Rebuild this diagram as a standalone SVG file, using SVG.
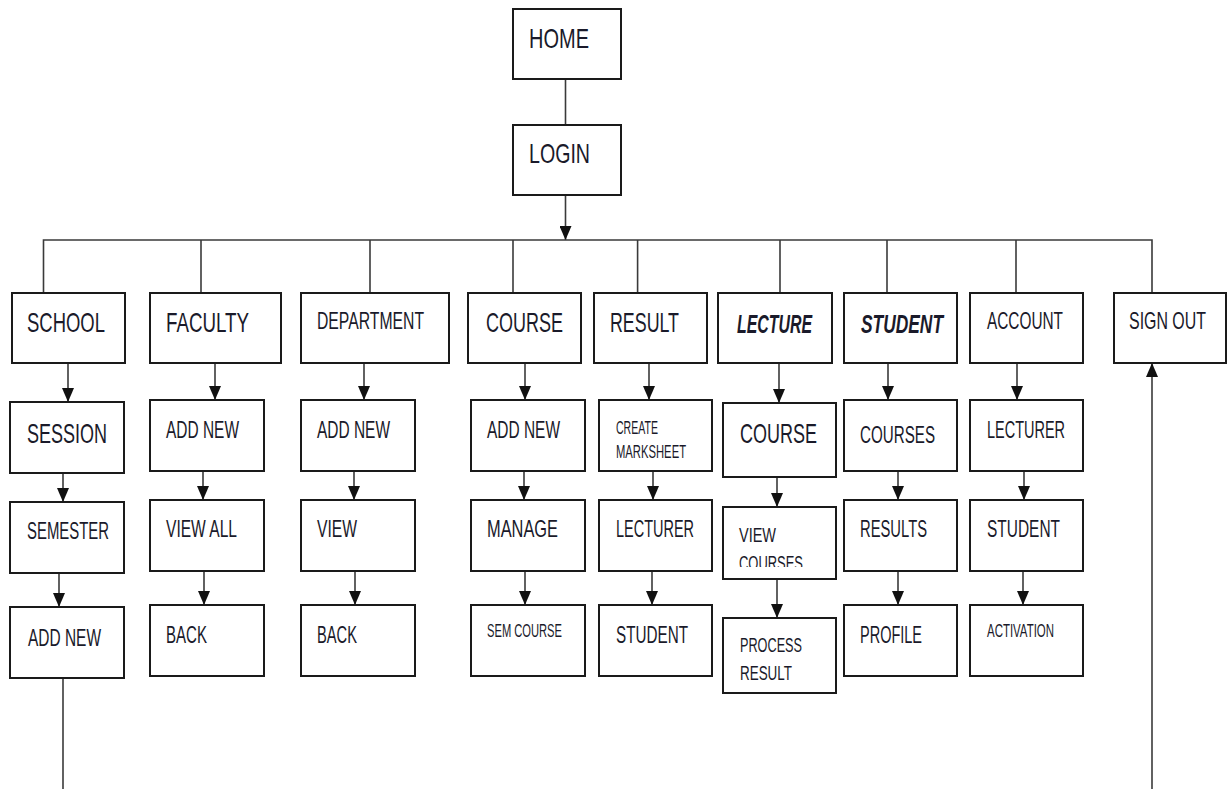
<svg xmlns="http://www.w3.org/2000/svg" width="1227" height="789" viewBox="0 0 1227 789">
<style>
.box{fill:#fff;stroke:#1a1a1a;stroke-width:2}
.ln{fill:none;stroke:#3a3a3a;stroke-width:1.6}
text{font-family:"Liberation Sans",Arial,sans-serif;fill:#1a1a2a}
.xl{font-size:28px}
.l{font-size:24.5px}
.m{font-size:20px}
.s{font-size:17.5px}
.it{font-size:26px;font-style:italic;font-weight:bold}
</style>
<defs>
<marker id="ah" viewBox="0 0 14 12" refX="14" refY="6" markerWidth="14" markerHeight="12" markerUnits="userSpaceOnUse" orient="auto">
<path d="M0,0 L14,6 L0,12 z" fill="#111"/>
</marker>
<clipPath id="vcclip"><rect x="724" y="552" width="112" height="15"/></clipPath>
</defs>
<g id="connectors">
<line class="ln" x1="565.5" y1="79" x2="565.5" y2="125"/>
<line class="ln" x1="565.5" y1="195" x2="565.5" y2="240" marker-end="url(#ah)"/>
<polyline class="ln" points="43.5,293 43.5,240 1152,240 1152,293"/>
<line class="ln" x1="201" y1="240" x2="201" y2="293"/>
<line class="ln" x1="370" y1="240" x2="370" y2="293"/>
<line class="ln" x1="513" y1="240" x2="513" y2="293"/>
<line class="ln" x1="637.6" y1="240" x2="637.6" y2="293"/>
<line class="ln" x1="780" y1="240" x2="780" y2="293"/>
<line class="ln" x1="887" y1="240" x2="887" y2="293"/>
<line class="ln" x1="1016" y1="240" x2="1016" y2="293"/>
<line class="ln" x1="68" y1="363" x2="68" y2="402" marker-end="url(#ah)"/>
<line class="ln" x1="63" y1="473" x2="63" y2="502" marker-end="url(#ah)"/>
<line class="ln" x1="59" y1="573" x2="59" y2="607" marker-end="url(#ah)"/>
<line class="ln" x1="63" y1="678" x2="63" y2="789"/>
<line class="ln" x1="215" y1="363" x2="215" y2="400" marker-end="url(#ah)"/>
<line class="ln" x1="203" y1="471" x2="203" y2="500" marker-end="url(#ah)"/>
<line class="ln" x1="204" y1="571" x2="204" y2="605" marker-end="url(#ah)"/>
<line class="ln" x1="364" y1="363" x2="364" y2="400" marker-end="url(#ah)"/>
<line class="ln" x1="354" y1="471" x2="354" y2="500" marker-end="url(#ah)"/>
<line class="ln" x1="355" y1="571" x2="355" y2="605" marker-end="url(#ah)"/>
<line class="ln" x1="525" y1="363" x2="525" y2="400" marker-end="url(#ah)"/>
<line class="ln" x1="524" y1="471" x2="524" y2="500" marker-end="url(#ah)"/>
<line class="ln" x1="525" y1="571" x2="525" y2="605" marker-end="url(#ah)"/>
<line class="ln" x1="649" y1="363" x2="649" y2="400" marker-end="url(#ah)"/>
<line class="ln" x1="653" y1="471" x2="653" y2="500" marker-end="url(#ah)"/>
<line class="ln" x1="652" y1="571" x2="652" y2="605" marker-end="url(#ah)"/>
<line class="ln" x1="779" y1="363" x2="779" y2="403" marker-end="url(#ah)"/>
<line class="ln" x1="777" y1="477" x2="777" y2="507" marker-end="url(#ah)"/>
<line class="ln" x1="777" y1="579" x2="777" y2="618" marker-end="url(#ah)"/>
<line class="ln" x1="888" y1="363" x2="888" y2="400" marker-end="url(#ah)"/>
<line class="ln" x1="898" y1="471" x2="898" y2="500" marker-end="url(#ah)"/>
<line class="ln" x1="898" y1="571" x2="898" y2="605" marker-end="url(#ah)"/>
<line class="ln" x1="1017" y1="363" x2="1017" y2="400" marker-end="url(#ah)"/>
<line class="ln" x1="1024" y1="471" x2="1024" y2="500" marker-end="url(#ah)"/>
<line class="ln" x1="1023" y1="571" x2="1023" y2="605" marker-end="url(#ah)"/>
<line class="ln" x1="1152" y1="789" x2="1152" y2="363" marker-end="url(#ah)"/>
</g>
<g id="home"><rect class="box" x="513" y="9" width="108" height="70"/><text class="xl" x="529" y="48" textLength="60" lengthAdjust="spacingAndGlyphs">HOME</text></g>
<g id="login"><rect class="box" x="513" y="125" width="108" height="70"/><text class="xl" x="529" y="163" textLength="61" lengthAdjust="spacingAndGlyphs">LOGIN</text></g>

<g id="school"><rect class="box" x="12" y="293" width="113" height="70"/><text class="xl" x="27" y="332" textLength="78" lengthAdjust="spacingAndGlyphs">SCHOOL</text></g>
<g id="faculty"><rect class="box" x="150" y="293" width="131" height="70"/><text class="xl" x="166" y="332" textLength="83" lengthAdjust="spacingAndGlyphs">FACULTY</text></g>
<g id="department"><rect class="box" x="301" y="293" width="148" height="70"/><text class="l" x="317" y="329" textLength="107" lengthAdjust="spacingAndGlyphs">DEPARTMENT</text></g>
<g id="course"><rect class="box" x="468" y="293" width="113" height="70"/><text class="xl" x="486" y="332" textLength="77" lengthAdjust="spacingAndGlyphs">COURSE</text></g>
<g id="result"><rect class="box" x="594" y="293" width="113" height="70"/><text class="xl" x="610" y="332" textLength="69" lengthAdjust="spacingAndGlyphs">RESULT</text></g>
<g id="lecture"><rect class="box" x="718" y="293" width="114" height="70"/><text class="it" x="737" y="333" textLength="75" lengthAdjust="spacingAndGlyphs">LECTURE</text></g>
<g id="student"><rect class="box" x="844" y="293" width="113" height="70"/><text class="it" x="861" y="333" textLength="82" lengthAdjust="spacingAndGlyphs">STUDENT</text></g>
<g id="account"><rect class="box" x="970" y="293" width="113" height="70"/><text class="l" x="987" y="329" textLength="76" lengthAdjust="spacingAndGlyphs">ACCOUNT</text></g>
<g id="signout"><rect class="box" x="1114" y="293" width="112" height="70"/><text class="l" x="1129" y="329" textLength="77" lengthAdjust="spacingAndGlyphs">SIGN OUT</text></g>

<g id="session"><rect class="box" x="10" y="402" width="114" height="71"/><text class="xl" x="27" y="443" textLength="80" lengthAdjust="spacingAndGlyphs">SESSION</text></g>
<g id="semester"><rect class="box" x="10" y="502" width="114" height="71"/><text class="l" x="27" y="539" textLength="82" lengthAdjust="spacingAndGlyphs">SEMESTER</text></g>
<g id="school-addnew"><rect class="box" x="10" y="607" width="114" height="71"/><text class="l" x="28" y="646" textLength="73" lengthAdjust="spacingAndGlyphs">ADD NEW</text></g>

<g id="faculty-addnew"><rect class="box" x="150" y="400" width="114" height="71"/><text class="l" x="166" y="438" textLength="73" lengthAdjust="spacingAndGlyphs">ADD NEW</text></g>
<g id="faculty-viewall"><rect class="box" x="150" y="500" width="114" height="71"/><text class="l" x="166" y="537" textLength="71" lengthAdjust="spacingAndGlyphs">VIEW ALL</text></g>
<g id="faculty-back"><rect class="box" x="150" y="605" width="114" height="71"/><text class="l" x="166" y="643" textLength="41" lengthAdjust="spacingAndGlyphs">BACK</text></g>

<g id="dept-addnew"><rect class="box" x="301" y="400" width="114" height="71"/><text class="l" x="317" y="438" textLength="73" lengthAdjust="spacingAndGlyphs">ADD NEW</text></g>
<g id="dept-view"><rect class="box" x="301" y="500" width="114" height="71"/><text class="l" x="317" y="537" textLength="40" lengthAdjust="spacingAndGlyphs">VIEW</text></g>
<g id="dept-back"><rect class="box" x="301" y="605" width="114" height="71"/><text class="l" x="317" y="643" textLength="40" lengthAdjust="spacingAndGlyphs">BACK</text></g>

<g id="course-addnew"><rect class="box" x="471" y="400" width="114" height="71"/><text class="l" x="487" y="438" textLength="73" lengthAdjust="spacingAndGlyphs">ADD NEW</text></g>
<g id="course-manage"><rect class="box" x="471" y="500" width="114" height="71"/><text class="l" x="487" y="537" textLength="71" lengthAdjust="spacingAndGlyphs">MANAGE</text></g>
<g id="course-semcourse"><rect class="box" x="471" y="605" width="114" height="71"/><text class="s" x="487" y="637" textLength="75" lengthAdjust="spacingAndGlyphs">SEM COURSE</text></g>

<g id="result-marksheet"><rect class="box" x="599" y="400" width="113" height="71"/><text class="s" x="616" y="434" textLength="42" lengthAdjust="spacingAndGlyphs">CREATE</text><text class="s" x="616" y="458" textLength="70" lengthAdjust="spacingAndGlyphs">MARKSHEET</text></g>
<g id="result-lecturer"><rect class="box" x="599" y="500" width="113" height="71"/><text class="l" x="616" y="537" textLength="78" lengthAdjust="spacingAndGlyphs">LECTURER</text></g>
<g id="result-student"><rect class="box" x="599" y="605" width="113" height="71"/><text class="l" x="616" y="643" textLength="72" lengthAdjust="spacingAndGlyphs">STUDENT</text></g>

<g id="lecture-course"><rect class="box" x="723" y="403" width="113" height="74"/><text class="xl" x="740" y="443" textLength="77" lengthAdjust="spacingAndGlyphs">COURSE</text></g>
<g id="lecture-viewcourses"><rect class="box" x="723" y="507" width="113" height="72"/><text class="m" x="739" y="542" textLength="37" lengthAdjust="spacingAndGlyphs">VIEW</text><text class="m" x="739" y="570" textLength="64" lengthAdjust="spacingAndGlyphs" clip-path="url(#vcclip)">COURSES</text></g>
<g id="lecture-processresult"><rect class="box" x="723" y="618" width="113" height="75"/><text class="m" x="740" y="652" textLength="62" lengthAdjust="spacingAndGlyphs">PROCESS</text><text class="m" x="740" y="680" textLength="52" lengthAdjust="spacingAndGlyphs">RESULT</text></g>

<g id="student-courses"><rect class="box" x="844" y="400" width="113" height="71"/><text class="l" x="860" y="443" textLength="75" lengthAdjust="spacingAndGlyphs">COURSES</text></g>
<g id="student-results"><rect class="box" x="844" y="500" width="113" height="71"/><text class="l" x="860" y="537" textLength="67" lengthAdjust="spacingAndGlyphs">RESULTS</text></g>
<g id="student-profile"><rect class="box" x="844" y="605" width="113" height="71"/><text class="l" x="860" y="643" textLength="62" lengthAdjust="spacingAndGlyphs">PROFILE</text></g>

<g id="account-lecturer"><rect class="box" x="970" y="400" width="113" height="71"/><text class="l" x="987" y="438" textLength="78" lengthAdjust="spacingAndGlyphs">LECTURER</text></g>
<g id="account-student"><rect class="box" x="970" y="500" width="113" height="71"/><text class="l" x="987" y="537" textLength="73" lengthAdjust="spacingAndGlyphs">STUDENT</text></g>
<g id="account-activation"><rect class="box" x="970" y="605" width="113" height="71"/><text class="s" x="987" y="637" textLength="67" lengthAdjust="spacingAndGlyphs">ACTIVATION</text></g>
</svg>
